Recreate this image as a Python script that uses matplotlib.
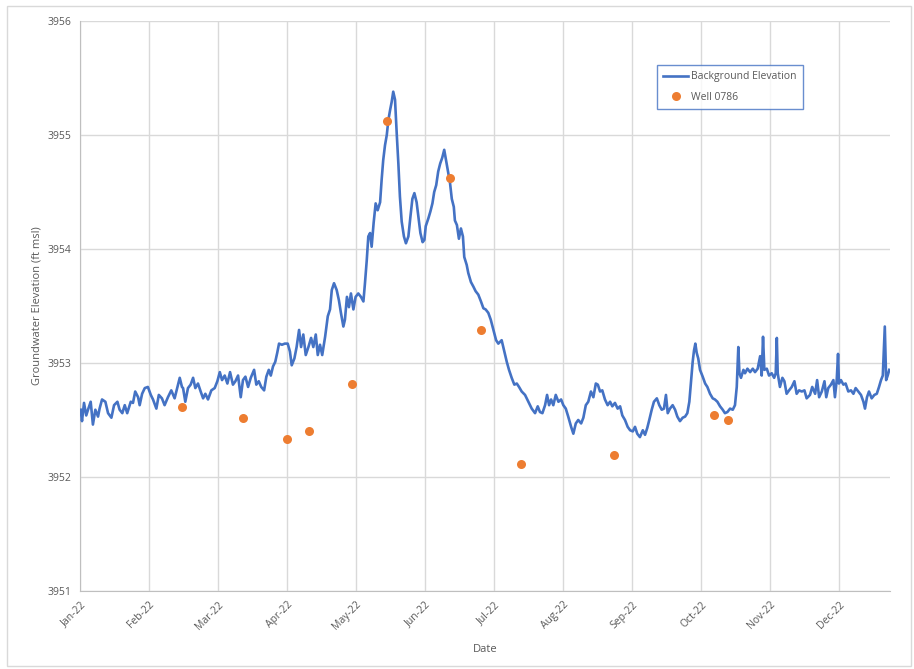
import numpy as np
import matplotlib
matplotlib.use("Agg")
import matplotlib.pyplot as plt
import matplotlib.dates as mdates
from datetime import datetime, timedelta

start = datetime(2022, 1, 1)

# background transducer record: days since 1 Jan 2022, elevation (ft msl)
bg_day = [
    0.3, 0.9, 1.8, 2.8, 3.6, 4.8, 5.8, 6.9, 8.1, 8.8, 9.9, 11.4, 12.6, 14.1, 15.3, 16.8,
    17.8, 19.0, 20.1, 21.2, 22.8, 23.8, 24.8, 26.1, 26.8, 27.9, 29.1, 30.5, 31.8, 32.8,
    34.3, 35.4, 36.8, 38.0, 39.5, 41.0, 42.5, 44.0, 44.8, 45.8,
    46.3, 47.3, 48.5, 49.7, 50.8, 51.8, 53.0, 54.2, 55.3, 56.3, 57.5, 59.0, 60.5, 61.7,
    62.8, 63.8, 65.0, 66.2, 67.4, 68.7, 69.8, 71.0, 72.2, 73.2, 74.3, 75.5, 76.7, 78.2,
    79.2, 80.3, 81.4, 82.7, 83.7, 84.8, 85.7, 86.7, 87.7, 88.6, 89.4, 90.7, 92.0,
    93.3, 94.3, 95.1, 96.3, 97.3, 98.4, 99.3, 100.3, 101.4, 102.6, 103.8, 104.8, 105.9,
    106.8, 107.8, 108.8, 110.1, 111.3, 112.3, 113.1, 114.1, 115.3, 116.3, 117.2, 118.3,
    119.0, 119.9, 120.8, 121.7, 122.8, 123.8, 125.0, 126.2, 127.3, 128.0, 128.8, 129.5,
    130.3, 131.0, 131.9, 132.8, 133.7, 134.8, 135.5, 136.2, 137.0, 137.8, 138.5, 139.3,
    140.0, 140.7, 141.5, 142.3, 143.0, 143.7, 144.5, 145.5, 146.4, 147.5, 148.4, 149.3,
    150.2, 151.2, 152.0, 152.9, 153.9, 154.7, 155.3, 156.5, 157.4, 158.3, 159.1, 160.0,
    160.9, 161.8, 162.7, 163.6, 164.4, 165.2, 166.2, 167.0, 167.9, 168.4, 169.3, 170.2,
    171.1, 172.0, 172.6, 173.7, 174.4, 175.6, 176.7, 177.7, 178.9, 180.1, 181.2, 182.2,
    183.4, 184.5, 185.7, 186.9, 187.9, 189.4, 190.6, 191.7, 192.7, 193.9, 195.1, 196.2,
    197.2, 198.4, 199.9, 201.4, 202.9, 204.4, 205.6, 206.6, 207.7, 208.9, 209.8, 210.7,
    211.6, 212.6, 213.7, 214.9, 216.1, 217.1, 218.2, 219.3, 220.6, 221.6, 222.7, 223.8,
    225.1, 226.1, 227.2, 228.3, 229.5, 230.6, 231.7, 232.6, 233.6, 234.6, 235.8, 237.0,
    238.1, 239.1, 240.3, 241.5, 242.6, 243.6, 244.8, 246.0, 247.1, 248.3, 249.3, 250.3,
    251.5, 252.8, 253.8, 254.8, 255.7, 256.8, 257.8, 259.1, 260.2, 261.3, 262.3, 263.2,
    264.0, 265.0, 266.2, 267.3, 268.3, 269.5, 270.7, 271.8, 272.8, 273.7, 274.5, 275.2,
    275.8, 276.4, 277.0, 277.7, 278.5, 279.7, 280.8, 281.8, 283.0, 284.2, 285.2, 286.3,
    287.5, 288.7, 289.7, 290.8, 292.0, 293.2, 294.2, 295.0, 295.7, 296.2, 296.9, 298.0,
    298.7, 299.8, 301.0, 302.2, 303.2, 304.4, 305.5, 306.2, 306.8, 307.4, 308.5, 309.5,
    310.7, 311.8, 312.5, 313.0, 313.4, 314.4, 315.5, 316.4, 317.4, 318.5, 319.7, 320.9,
    321.9, 323.0, 324.2, 325.4, 326.4, 327.9, 328.9, 330.2, 331.1, 332.0, 333.2, 334.4,
    335.2, 336.1, 337.3, 338.4, 339.1, 339.9, 340.5, 340.9, 341.8, 342.9, 343.9, 345.1,
    346.3, 347.4, 348.4, 349.6, 350.8, 351.9, 352.6, 353.5, 354.4, 355.6, 356.8, 357.9,
    358.9, 359.8, 360.6, 361.0, 361.5, 362.1, 362.8, 363.5,
]
bg_elev = [
    3952.59, 3952.49, 3952.65, 3952.54, 3952.59, 3952.66, 3952.46, 3952.59, 3952.53, 3952.60,
    3952.68, 3952.66, 3952.56, 3952.52, 3952.63, 3952.66, 3952.59, 3952.56, 3952.63, 3952.56,
    3952.66, 3952.65, 3952.75, 3952.70, 3952.63, 3952.73, 3952.78, 3952.79, 3952.72, 3952.68,
    3952.60, 3952.72, 3952.69, 3952.63, 3952.70, 3952.76, 3952.69, 3952.81, 3952.87, 3952.79,
    3952.78, 3952.66, 3952.78, 3952.81, 3952.87, 3952.78, 3952.82, 3952.75, 3952.69, 3952.73,
    3952.68, 3952.76, 3952.78, 3952.84, 3952.92, 3952.85, 3952.89, 3952.82, 3952.92, 3952.81,
    3952.84, 3952.89, 3952.70, 3952.85, 3952.88, 3952.79, 3952.87, 3952.94, 3952.81, 3952.84,
    3952.79, 3952.76, 3952.88, 3952.94, 3952.89, 3952.97, 3953.01, 3953.09, 3953.17, 3953.16,
    3953.17,
    3953.17, 3953.10, 3952.98, 3953.04, 3953.14, 3953.29, 3953.14, 3953.25, 3953.07, 3953.14,
    3953.22, 3953.14, 3953.25, 3953.07, 3953.16, 3953.07, 3953.23, 3953.41, 3953.47, 3953.64,
    3953.70, 3953.64, 3953.55, 3953.44, 3953.32, 3953.38, 3953.58, 3953.49, 3953.61, 3953.47,
    3953.58, 3953.61, 3953.58, 3953.54, 3953.70, 3953.90, 3954.11, 3954.14, 3954.02, 3954.23,
    3954.40, 3954.34, 3954.41, 3954.61, 3954.78, 3954.91, 3955.00, 3955.13, 3955.22, 3955.29,
    3955.38, 3955.31, 3955.00, 3954.75, 3954.46, 3954.24, 3954.11, 3954.05, 3954.11, 3954.28,
    3954.44, 3954.49, 3954.41, 3954.28, 3954.14, 3954.06, 3954.08, 3954.20, 3954.27, 3954.33,
    3954.40, 3954.50, 3954.56, 3954.68, 3954.75, 3954.80, 3954.87, 3954.78, 3954.69, 3954.58,
    3954.44, 3954.37, 3954.25, 3954.21, 3954.09, 3954.18, 3954.11, 3953.93, 3953.86, 3953.79,
    3953.71, 3953.67, 3953.63, 3953.60, 3953.54, 3953.48, 3953.47, 3953.44, 3953.38, 3953.29,
    3953.20, 3953.17, 3953.20, 3953.10, 3953.01, 3952.94, 3952.87, 3952.81, 3952.82, 3952.79,
    3952.75, 3952.72, 3952.66, 3952.60, 3952.56, 3952.62, 3952.57, 3952.56, 3952.63, 3952.72,
    3952.63, 3952.68, 3952.63, 3952.72, 3952.66, 3952.68, 3952.63, 3952.60, 3952.53, 3952.44,
    3952.38, 3952.47, 3952.50, 3952.47, 3952.52, 3952.63, 3952.66, 3952.75, 3952.70, 3952.82,
    3952.81, 3952.75, 3952.76, 3952.68, 3952.63, 3952.66, 3952.62, 3952.65, 3952.60, 3952.62,
    3952.54, 3952.50, 3952.44, 3952.41, 3952.40, 3952.44, 3952.38, 3952.35, 3952.41, 3952.37,
    3952.43, 3952.50, 3952.59, 3952.66, 3952.69, 3952.63, 3952.59, 3952.60, 3952.72, 3952.56,
    3952.60, 3952.63, 3952.59, 3952.53, 3952.49, 3952.52, 3952.53, 3952.56, 3952.66, 3952.85,
    3953.01, 3953.11, 3953.17, 3953.09, 3953.04, 3952.94, 3952.88, 3952.82, 3952.79, 3952.73,
    3952.69, 3952.68, 3952.66, 3952.62, 3952.59, 3952.56, 3952.57, 3952.60, 3952.59, 3952.63,
    3952.79, 3953.14, 3952.91, 3952.87, 3952.94, 3952.91, 3952.95, 3952.92, 3952.95, 3952.92,
    3952.95, 3953.06, 3952.89, 3953.23, 3952.94, 3952.95, 3952.89, 3952.91, 3952.87, 3952.91,
    3953.22, 3952.91, 3952.79, 3952.87, 3952.84, 3952.73, 3952.76, 3952.79, 3952.84, 3952.73,
    3952.76, 3952.75, 3952.76, 3952.69, 3952.72, 3952.79, 3952.73, 3952.85, 3952.70, 3952.75,
    3952.84, 3952.70, 3952.78, 3952.81, 3952.85, 3952.70, 3952.85, 3953.08, 3952.82, 3952.85,
    3952.81, 3952.82, 3952.75, 3952.76, 3952.73, 3952.78, 3952.75, 3952.72, 3952.66, 3952.60,
    3952.70, 3952.75, 3952.69, 3952.72, 3952.73, 3952.79, 3952.85, 3952.89, 3953.08, 3953.32,
    3952.85, 3952.89, 3952.94,
]

# manual well measurements
well_dates = ["2022-02-16", "2022-03-15", "2022-04-04", "2022-04-14", "2022-05-03",
              "2022-05-19", "2022-06-16", "2022-06-30", "2022-07-18", "2022-08-29",
              "2022-10-13", "2022-10-19"]
well_elev = [3952.61, 3952.52, 3952.33, 3952.40, 3952.82, 3955.12, 3954.62,
             3953.29, 3952.11, 3952.19, 3952.54, 3952.50]

bg_x = [start + timedelta(days=d) for d in bg_day]
well_x = [datetime.strptime(d, "%Y-%m-%d") for d in well_dates]

plt.rcParams['font.family'] = ['Open Sans', 'DejaVu Sans']
txt = '#595959'
grid_c = '#D9D9D9'

fig = plt.figure(figsize=(9.14, 6.69), dpi=100)
ax = fig.add_axes([80/914, 78/669, 809.7/914, 570/669])

# chart area border
fig.patches.append(plt.Rectangle((7/914, 3/669), 904/914, 660/669, transform=fig.transFigure,
                                 fill=False, edgecolor=grid_c, linewidth=1))

ax.plot(bg_x, bg_elev, color='#4472C4', linewidth=1.9, label='Background Elevation', zorder=3)
ax.plot(well_x, well_elev, 'o', color='#ED7D31', markersize=6.5, markeredgewidth=0,
        label='Well 0786', zorder=4)

ax.set_ylim(3951, 3956)
ax.set_yticks(np.arange(3951, 3957, 1))
ax.yaxis.set_major_formatter(matplotlib.ticker.FormatStrFormatter('%d'))

tick_dates = [start + timedelta(days=31 * k) for k in range(12)]
ax.set_xlim(start, start + timedelta(days=363.7))
ax.set_xticks(tick_dates)
ax.xaxis.set_major_formatter(mdates.DateFormatter('%b-%y'))
plt.setp(ax.get_xticklabels(), rotation=45, ha='right', rotation_mode='anchor')

ax.grid(True, color=grid_c, linewidth=1)
ax.set_axisbelow(True)
for s in ['top', 'right']:
    ax.spines[s].set_visible(False)
for s in ['left', 'bottom']:
    ax.spines[s].set_color('#BFBFBF')
ax.tick_params(length=0, labelsize=7.5, colors=txt, pad=6)

ax.set_xlabel('Date', fontsize=8, color=txt, labelpad=8)
ax.set_ylabel('Groundwater Elevation (ft msl)', fontsize=8, color=txt, labelpad=4)

leg = ax.legend(loc='upper left', bbox_to_anchor=((657 - 80) / 809.7, (591 - 65) / 570),
                borderaxespad=0, fontsize=7.5, frameon=True, fancybox=False,
                borderpad=0.6, labelspacing=0.9, handlelength=2.4, handletextpad=0.3)
leg.get_frame().set_edgecolor('#4472C4')
leg.get_frame().set_linewidth(1)
for t in leg.get_texts():
    t.set_color(txt)

plt.savefig('out.png', dpi=100)
